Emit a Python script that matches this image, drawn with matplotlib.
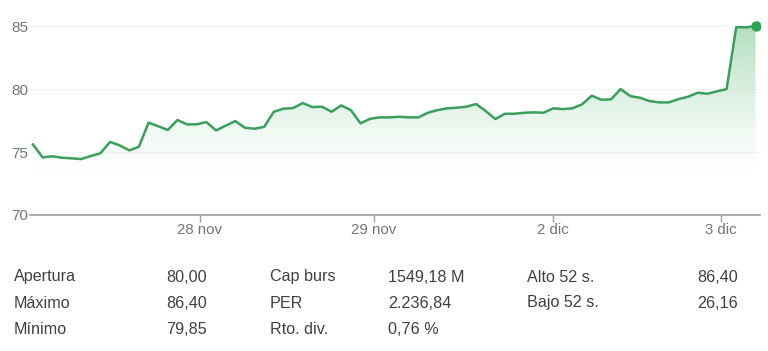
import numpy as np
import matplotlib.pyplot as plt
from matplotlib.colors import to_rgb

# intraday prices, evenly spaced samples over five sessions
prices = [75.6, 74.58, 74.66, 74.55, 74.5, 74.44, 74.68, 74.9, 75.8, 75.53,
          75.13, 75.42, 77.33, 77.05, 76.75, 77.54, 77.2, 77.2, 77.38, 76.72,
          77.09, 77.46, 76.93, 76.85, 77.0, 78.2, 78.44, 78.49, 78.89, 78.57,
          78.6, 78.2, 78.7, 78.33, 77.28, 77.64, 77.75, 77.75, 77.8, 77.75,
          77.75, 78.12, 78.33, 78.47, 78.52, 78.6, 78.81, 78.25, 77.62, 78.04,
          78.04, 78.12, 78.15, 78.12, 78.47, 78.41, 78.47, 78.79, 79.47, 79.15,
          79.18, 80.0, 79.44, 79.31, 79.05, 78.94, 78.94, 79.2, 79.39, 79.71,
          79.63, 79.82, 80.0, 84.92, 84.9, 85.0]
tick_pos = [17.3, 35.4, 54.0, 71.4]
tick_labels = ['28 nov', '29 nov', '2 dic', '3 dic']
y_ticks = [70, 75, 80, 85]

stats_labels = [['Apertura', 'Máximo', 'Mínimo'],
                ['Cap burs', 'PER', 'Rto. div.'],
                ['Alto 52 s.', 'Bajo 52 s.']]
stats_values = [['80,00', '86,40', '79,85'],
                ['1549,18 M', '2.236,84', '0,76 %'],
                ['86,40', '26,16']]

plt.rcParams['font.family'] = ['Liberation Sans', 'DejaVu Sans']

line_color = '#3a9f5c'
grey = '#70757a'
text_color = '#3c4043'

fig = plt.figure(figsize=(7.68, 3.51), dpi=100)
ax = fig.add_axes([0.039, 0.3875, 0.951, 0.5955])

x = np.arange(len(prices))
y = np.array(prices)
ax.set_xlim(-0.31, 75.5)
ax.set_ylim(70, 86.6)

# gradient fill under the line
rgb = to_rgb('#34a853')
grad = np.zeros((256, 1, 4))
grad[:, 0, :3] = rgb
alpha = np.linspace(0, 1, 256)
grad[:, 0, 3] = np.clip((alpha - 0.2) / 0.8, 0, 1) ** 1.3 * 0.38
img = ax.imshow(grad, aspect='auto', origin='lower',
                extent=[x[0], x[-1], 70, 85.2], zorder=1)
poly = ax.fill_between(x, y, 70, color='none', lw=0)
img.set_clip_path(poly.get_paths()[0], transform=ax.transData)

ax.plot(x, y, color=line_color, lw=1.8, zorder=3, solid_joinstyle='round')
ax.plot(x[-1], y[-1], 'o', color='#2da44e', ms=6.5, zorder=4)

for v in y_ticks[1:]:
    ax.axhline(v, color='#f1f3f4', lw=0.8, zorder=0)

for s in ['top', 'right', 'left']:
    ax.spines[s].set_visible(False)
ax.spines['bottom'].set_color('#9aa0a6')
ax.spines['bottom'].set_linewidth(1.2)

ax.set_yticks(y_ticks)
ax.set_yticklabels([str(v) for v in y_ticks])
ax.tick_params(axis='y', length=0, pad=1, labelsize=11, labelcolor=grey)
ax.set_xticks(tick_pos)
ax.set_xticklabels(tick_labels)
ax.tick_params(axis='x', length=5, width=1, color='#9aa0a6', pad=1,
               labelsize=10.8, labelcolor=grey)

# key stats table below the chart
label_x = [14, 270, 527]
value_x = [166, 388, 697]
row_y = [277, 303, 329]
for c in range(3):
    for r in range(len(stats_labels[c])):
        fig.text(label_x[c] / 768, 1 - row_y[r] / 351, stats_labels[c][r],
                 fontsize=11.6, color=text_color, va='center', ha='left')
        fig.text(value_x[c] / 768, 1 - row_y[r] / 351, stats_values[c][r],
                 fontsize=11.6, color=text_color, va='center', ha='left')

fig.savefig('out.png', dpi=100)
